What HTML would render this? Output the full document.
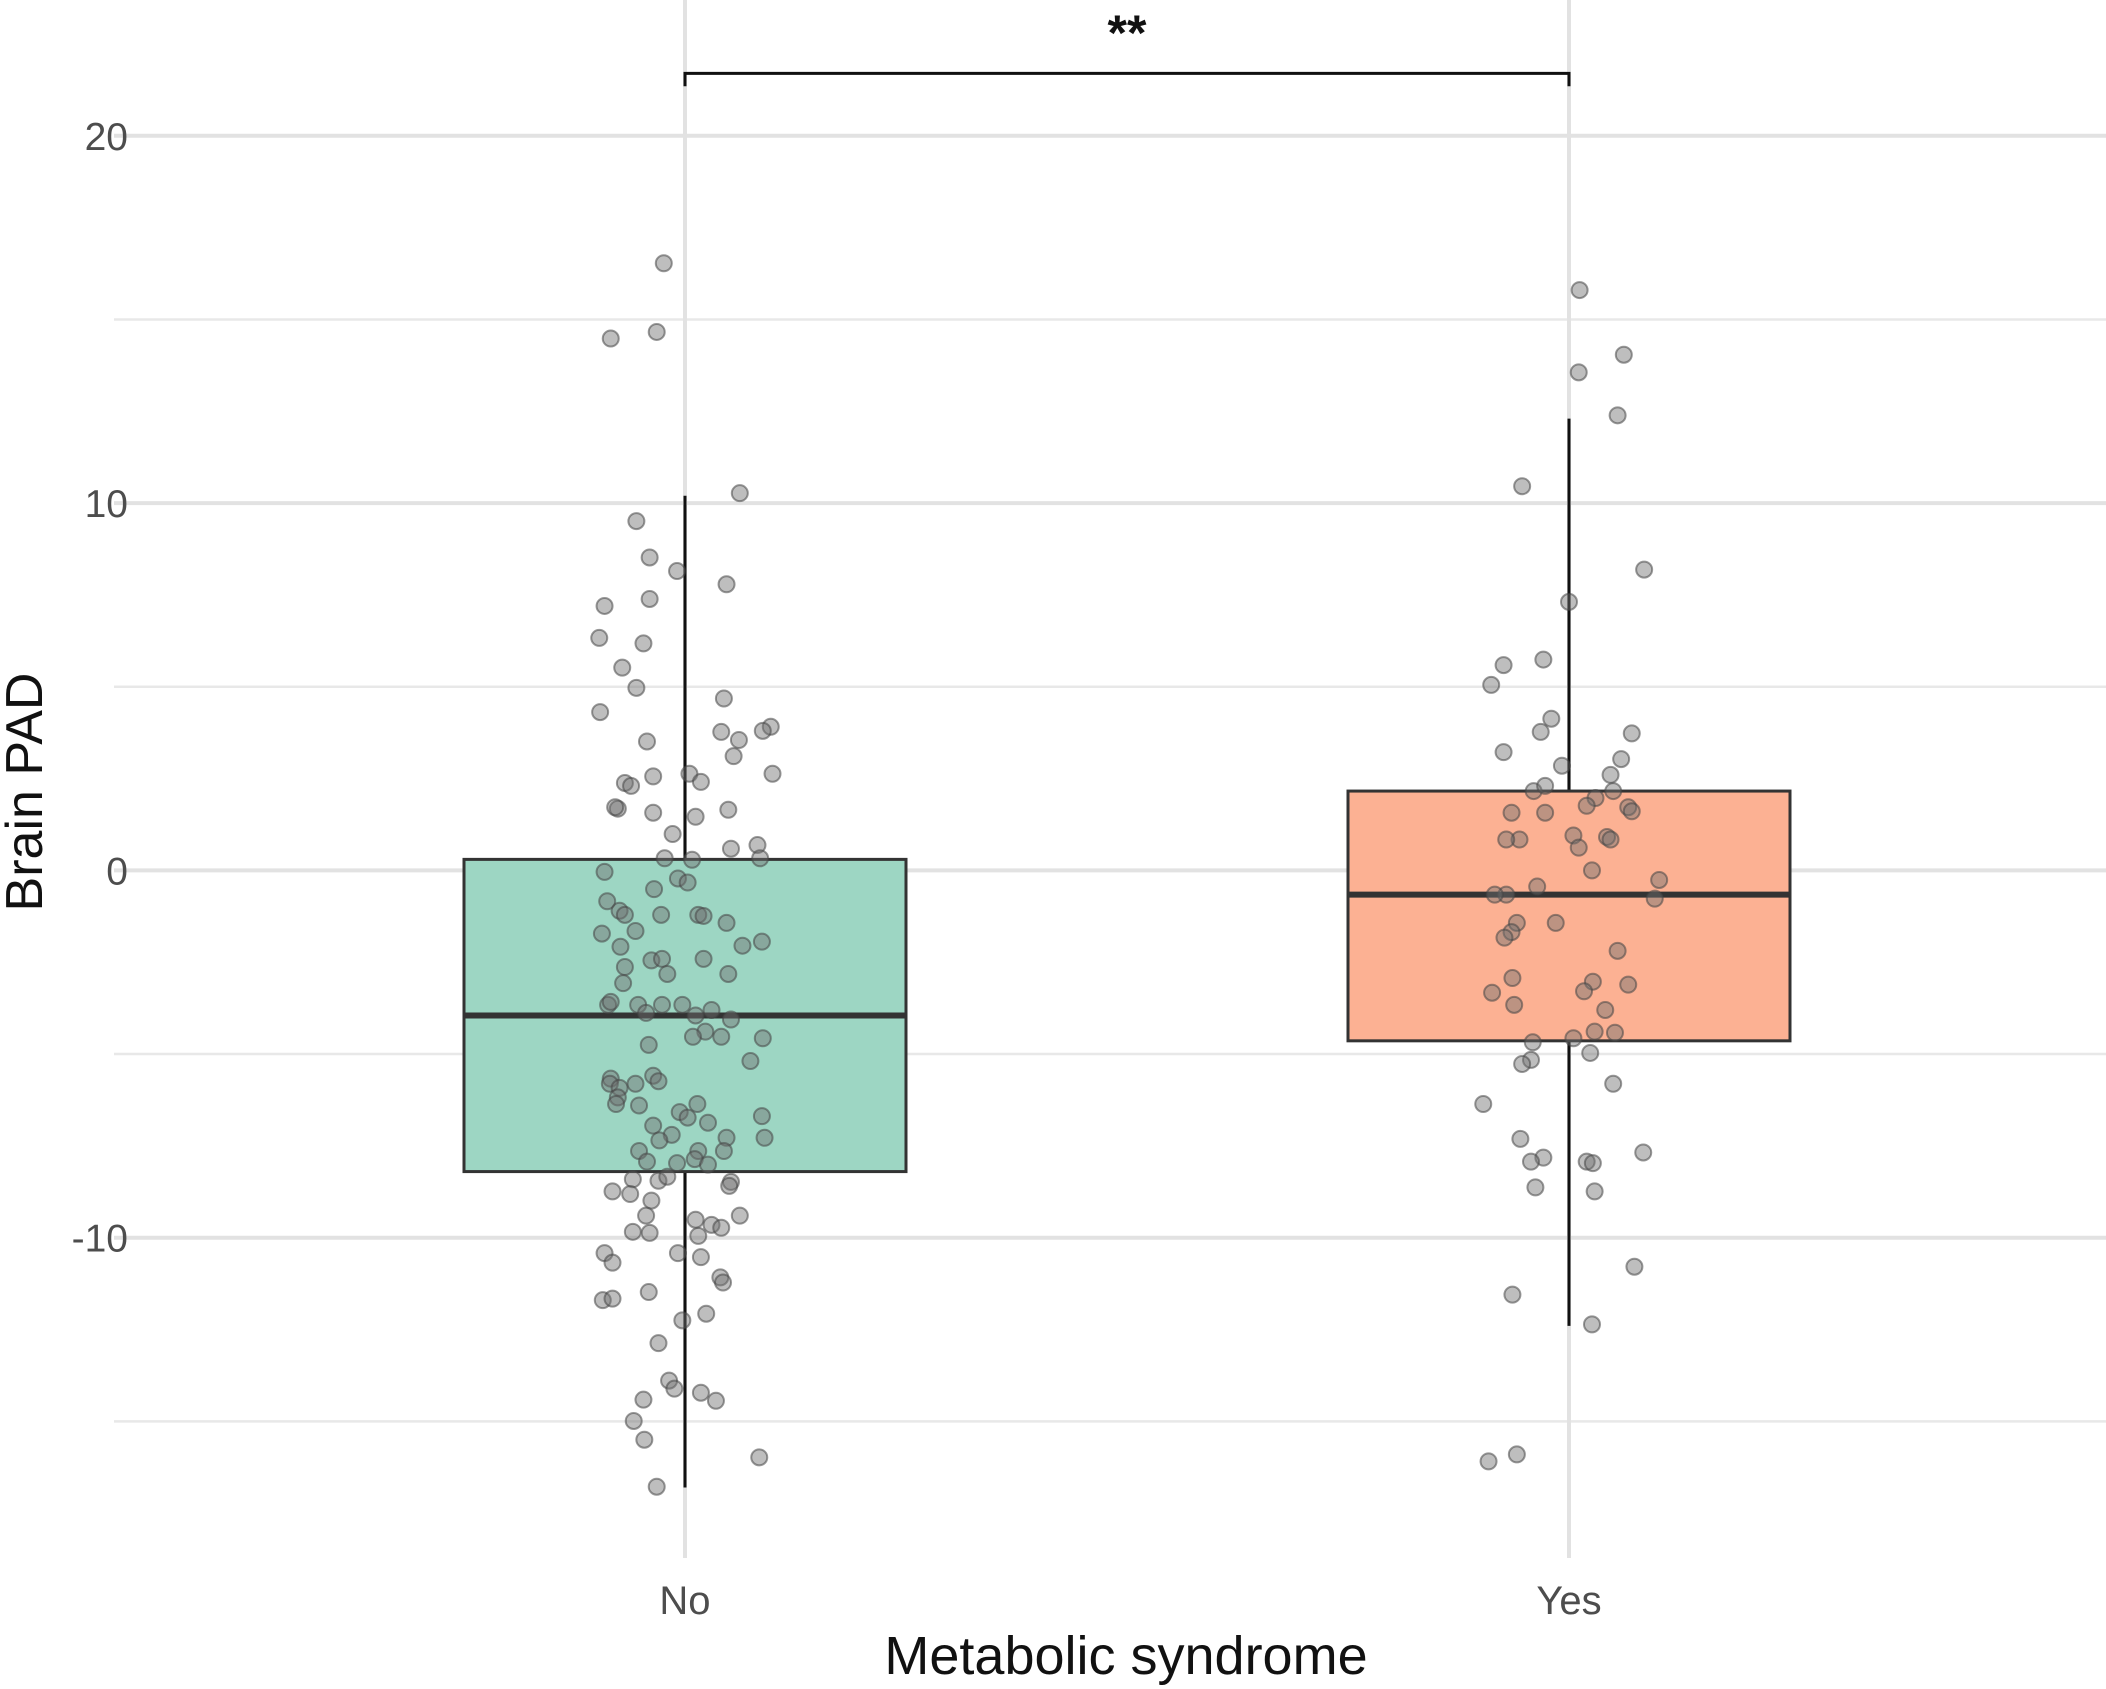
<!DOCTYPE html>
<html><head><meta charset="utf-8"><style>
html,body{margin:0;padding:0;background:#fff;}
svg{display:block;font-family:"Liberation Sans",sans-serif;}
</style></head><body>
<svg id="chart" width="2106" height="1689" viewBox="0 0 2106 1689"></svg>
<script>
const categories=["No","Yes"];
const boxQ1=[-8.2,-4.64];
const boxMedian=[-3.95,-0.66];
const boxQ3=[0.3,2.16];
const whiskerLow=[-16.8,-12.4];
const whiskerHigh=[10.2,12.3];
const yTicks=[-10,0,10,20];
const yMinor=[-15,-5,5,15];
const boxColors=["#9dd6c3","#fcb193"];
const noValues=[16.53,14.48,14.66,10.27,9.51,8.52,8.15,7.79,7.20,7.39,6.33,6.18,5.52,4.97,4.68,4.31,3.91,3.77,3.80,3.51,3.55,3.11,2.63,2.63,2.56,2.41,2.38,2.30,1.68,1.72,1.57,1.65,1.46,0.99,0.59,0.69,0.33,0.33,-0.04,0.29,-0.22,-0.33,-0.51,-0.84,-1.10,-1.21,-1.21,-1.24,-1.43,-1.21,-1.72,-2.08,-1.65,-1.94,-2.05,-2.45,-2.41,-2.63,-2.82,-3.07,-2.41,-2.82,-3.66,-3.66,-3.66,-3.66,-3.58,-3.80,-3.88,-3.95,-4.06,-4.39,-4.53,-4.53,-4.57,-4.75,-5.19,-5.67,-5.81,-5.59,-5.74,-5.92,-5.81,-6.18,-6.36,-6.40,-6.58,-6.36,-6.73,-6.69,-6.95,-7.20,-6.87,-7.28,-7.35,-7.28,-7.64,-7.64,-7.64,-7.86,-7.97,-8.01,-7.93,-8.48,-8.41,-8.45,-8.34,-8.81,-8.74,-8.59,-8.99,-9.40,-9.51,-9.40,-9.65,-9.73,-9.87,-9.95,-9.84,-10.42,-10.42,-10.68,-10.53,-11.08,-11.22,-11.70,-11.66,-11.48,-12.07,-12.25,-12.87,-13.89,-14.11,-14.22,-14.44,-14.41,-14.99,-15.50,-15.98,-16.78];
const noJitter=[-0.024,-0.084,-0.032,0.062,-0.055,-0.040,-0.009,0.047,-0.091,-0.040,-0.097,-0.047,-0.071,-0.055,0.044,-0.096,0.097,0.041,0.088,-0.043,0.061,0.055,0.005,0.099,-0.036,0.018,-0.068,-0.061,-0.076,-0.079,-0.036,0.049,0.012,-0.014,0.052,0.082,-0.023,0.085,-0.091,0.008,-0.008,0.003,-0.035,-0.088,-0.074,-0.068,0.015,0.021,0.047,-0.027,-0.094,-0.073,-0.056,0.087,0.065,-0.038,-0.026,-0.068,-0.020,-0.070,0.021,0.049,-0.053,-0.026,-0.087,-0.003,-0.084,0.030,-0.044,0.012,0.052,0.023,0.009,0.041,0.088,-0.041,0.074,-0.084,-0.085,-0.036,-0.030,-0.074,-0.056,-0.076,-0.078,-0.052,-0.006,0.014,0.003,0.087,-0.036,-0.015,0.026,0.090,-0.029,0.047,0.044,-0.052,0.015,0.011,-0.009,0.026,-0.043,0.052,-0.059,-0.030,-0.020,-0.062,-0.082,0.050,-0.038,-0.044,0.012,0.062,0.030,0.041,-0.040,0.015,-0.059,-0.008,-0.091,-0.082,0.018,0.040,0.043,-0.093,-0.082,-0.041,0.024,-0.003,-0.030,-0.018,-0.012,0.018,0.035,-0.047,-0.058,-0.046,0.084,-0.032];
const yesValues=[15.80,14.04,13.56,12.39,10.46,8.19,7.31,5.59,5.74,5.05,4.13,3.77,3.73,3.22,2.85,3.03,2.16,2.30,2.60,1.97,2.16,1.72,1.61,1.57,1.57,1.76,0.84,0.84,0.91,0.95,0.62,0.84,0,-0.26,-0.44,-0.66,-0.66,-0.77,-1.43,-1.43,-1.68,-1.83,-2.19,-2.93,-3.03,-3.33,-3.11,-3.29,-3.66,-3.80,-4.39,-4.42,-4.57,-4.68,-4.97,-5.16,-5.27,-5.81,-6.36,-7.31,-7.82,-7.93,-7.68,-7.93,-7.97,-8.63,-8.74,-10.79,-11.55,-12.36,-15.90,-16.09];
const yesJitter=[0.012,0.062,0.011,0.055,-0.053,0.085,0,-0.074,-0.029,-0.088,-0.020,-0.032,0.071,-0.074,-0.008,0.059,-0.040,-0.027,0.047,0.030,0.050,0.067,0.071,-0.065,-0.027,0.020,-0.056,-0.071,0.043,0.005,0.011,0.047,0.026,0.102,-0.036,-0.071,-0.084,0.097,-0.015,-0.059,-0.065,-0.073,0.055,-0.064,0.027,-0.087,0.067,0.017,-0.062,0.041,0.029,0.052,0.005,-0.041,0.024,-0.043,-0.053,0.050,-0.097,-0.055,-0.029,-0.043,0.084,0.020,0.027,-0.038,0.029,0.074,-0.064,0.026,-0.059,-0.091];
const bracketY=21.7, bracketTick=21.35;

const NS="http://www.w3.org/2000/svg";
const svg=document.getElementById("chart");
function yS(v){return 870.4-v*36.73;}
function xS(c){return 685+c*884;}
function mk(tag,attrs,parent){const e=document.createElementNS(NS,tag);for(const k in attrs)e.setAttribute(k,attrs[k]);(parent||svg).appendChild(e);return e;}
const grid=mk("g",{});


yMinor.forEach(v=>{const l=mk("line",{x1:114,x2:2106,y1:yS(v),y2:yS(v),stroke:"#e8e8e8","stroke-width":2.5},grid);

});
yTicks.forEach(v=>{const l=mk("line",{x1:114,x2:2106,y1:yS(v),y2:yS(v),stroke:"#e2e2e2","stroke-width":4},grid);


const t=mk("text",{x:128,y:yS(v)+14,"text-anchor":"end","font-size":39,fill:"#4d4d4d"});
t.textContent=String(v);

});
categories.forEach((c,i)=>{const l=mk("line",{x1:xS(i),x2:xS(i),y1:0,y2:1558,stroke:"#e2e2e2","stroke-width":4},grid);


const t=mk("text",{x:xS(i),y:1614,"text-anchor":"middle","font-size":40,fill:"#4d4d4d"});
t.textContent=c;

});
categories.forEach((c,i)=>{const g=mk("g",{});


mk("line",{x1:xS(i),x2:xS(i),y1:yS(whiskerHigh[i]),y2:yS(whiskerLow[i]),stroke:"#111","stroke-width":3},g);
mk("rect",{x:xS(i)-221,y:yS(boxQ3[i]),width:442,height:yS(boxQ1[i])-yS(boxQ3[i]),fill:boxColors[i],stroke:"#333","stroke-width":3},g);
mk("line",{x1:xS(i)-221,x2:xS(i)+221,y1:yS(boxMedian[i]),y2:yS(boxMedian[i]),stroke:"#333","stroke-width":6},g);});
function pts(vals,jit,ci,name){const g=mk("g",{});


vals.forEach((v,k)=>{const c=mk("circle",{cx:xS(ci+jit[k]),cy:yS(v),r:8,fill:"rgba(110,110,110,0.45)",stroke:"rgba(70,70,70,0.55)","stroke-width":2},g);

});}
pts(noValues,noJitter,0,"points-no");
pts(yesValues,yesJitter,1,"points-yes");
const br=mk("path",{d:`M${xS(0)} ${yS(bracketTick)}V${yS(bracketY)}H${xS(1)}V${yS(bracketTick)}`,fill:"none",stroke:"#111","stroke-width":3});


const st=mk("text",{x:(xS(0)+xS(1))/2,y:50,"text-anchor":"middle","font-size":50,"font-weight":"bold",fill:"#111"});
st.textContent="**";


const xt=mk("text",{x:1126,y:1674,"text-anchor":"middle","font-size":54,fill:"#111"});
xt.textContent="Metabolic syndrome";


const yt=mk("text",{x:0,y:0,"text-anchor":"middle","font-size":52,fill:"#111",transform:"translate(42,792) rotate(-90)"});
yt.textContent="Brain PAD";


</script>
</body></html>
